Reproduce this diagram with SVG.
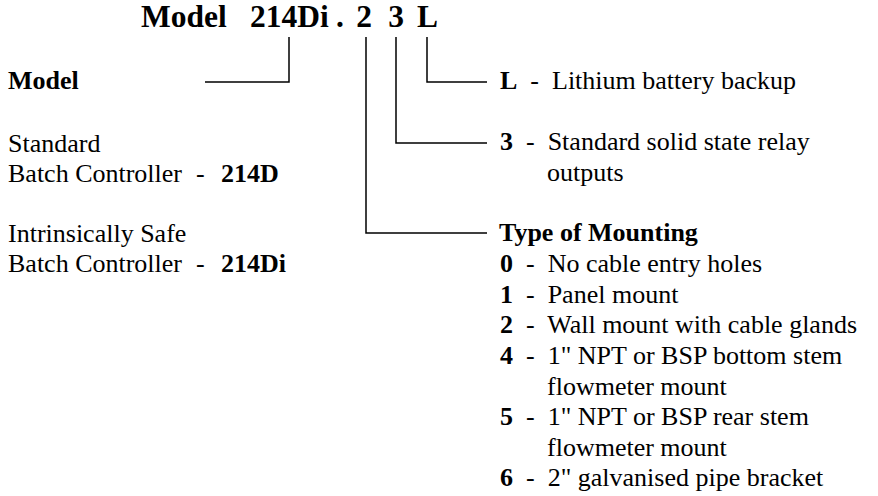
<svg xmlns="http://www.w3.org/2000/svg" width="878" height="496" viewBox="0 0 878 496">
<style>
text{font-family:"Liberation Serif","Times New Roman",serif;font-size:26px;fill:#000;white-space:pre}
.b{font-weight:bold}
.t{font-size:31.5px;font-weight:bold}
.c{fill:none;stroke:#000;stroke-width:1.5}
</style>
<rect width="878" height="496" fill="#fff"/>
<g id="title">
<text class="t" x="141" y="27">Model</text>
<text class="t" x="250" y="27">214Di</text>
<text class="t" x="336" y="27">.</text>
<text class="t" x="364" y="27" text-anchor="middle">2</text>
<text class="t" x="396" y="27" text-anchor="middle">3</text>
<text class="t" x="417" y="27">L</text>
</g>
<g id="connectors">
<polyline class="c" points="289,37 289,82 205,82"/>
<polyline class="c" points="366,37 366,233 487,233"/>
<polyline class="c" points="396,37 396,143 487,143"/>
<polyline class="c" points="427,37 427,82 487,82"/>
</g>
<g id="model">
<text class="b" x="8" y="89">Model</text>
<text x="8" y="152">Standard</text>
<text x="8" y="182">Batch Controller<tspan x="196">-</tspan><tspan class="b" x="221">214D</tspan></text>
<text x="8" y="242">Intrinsically Safe</text>
<text x="8" y="272">Batch Controller<tspan x="196">-</tspan><tspan class="b" x="221">214Di</tspan></text>
</g>
<g id="battery">
<text x="500" y="89"><tspan class="b">L</tspan>  -  Lithium battery backup</text>
</g>
<g id="relay">
<text x="500" y="150"><tspan class="b">3</tspan>  -  Standard solid state relay</text>
<text x="547" y="181">outputs</text>
</g>
<g id="mounting">
<text class="b" x="499" y="241">Type of Mounting</text>
<text x="500" y="272"><tspan class="b">0</tspan>  -  No cable entry holes</text>
<text x="500" y="302.5"><tspan class="b">1</tspan>  -  Panel mount</text>
<text x="500" y="333"><tspan class="b">2</tspan>  -  Wall mount with cable glands</text>
<text x="500" y="363.5"><tspan class="b">4</tspan>  -  1" NPT or BSP bottom stem</text>
<text x="547" y="394.5">flowmeter mount</text>
<text x="500" y="425"><tspan class="b">5</tspan>  -  1" NPT or BSP rear stem</text>
<text x="547" y="456">flowmeter mount</text>
<text x="500" y="486"><tspan class="b">6</tspan>  -  2" galvanised pipe bracket</text>
</g>
</svg>
